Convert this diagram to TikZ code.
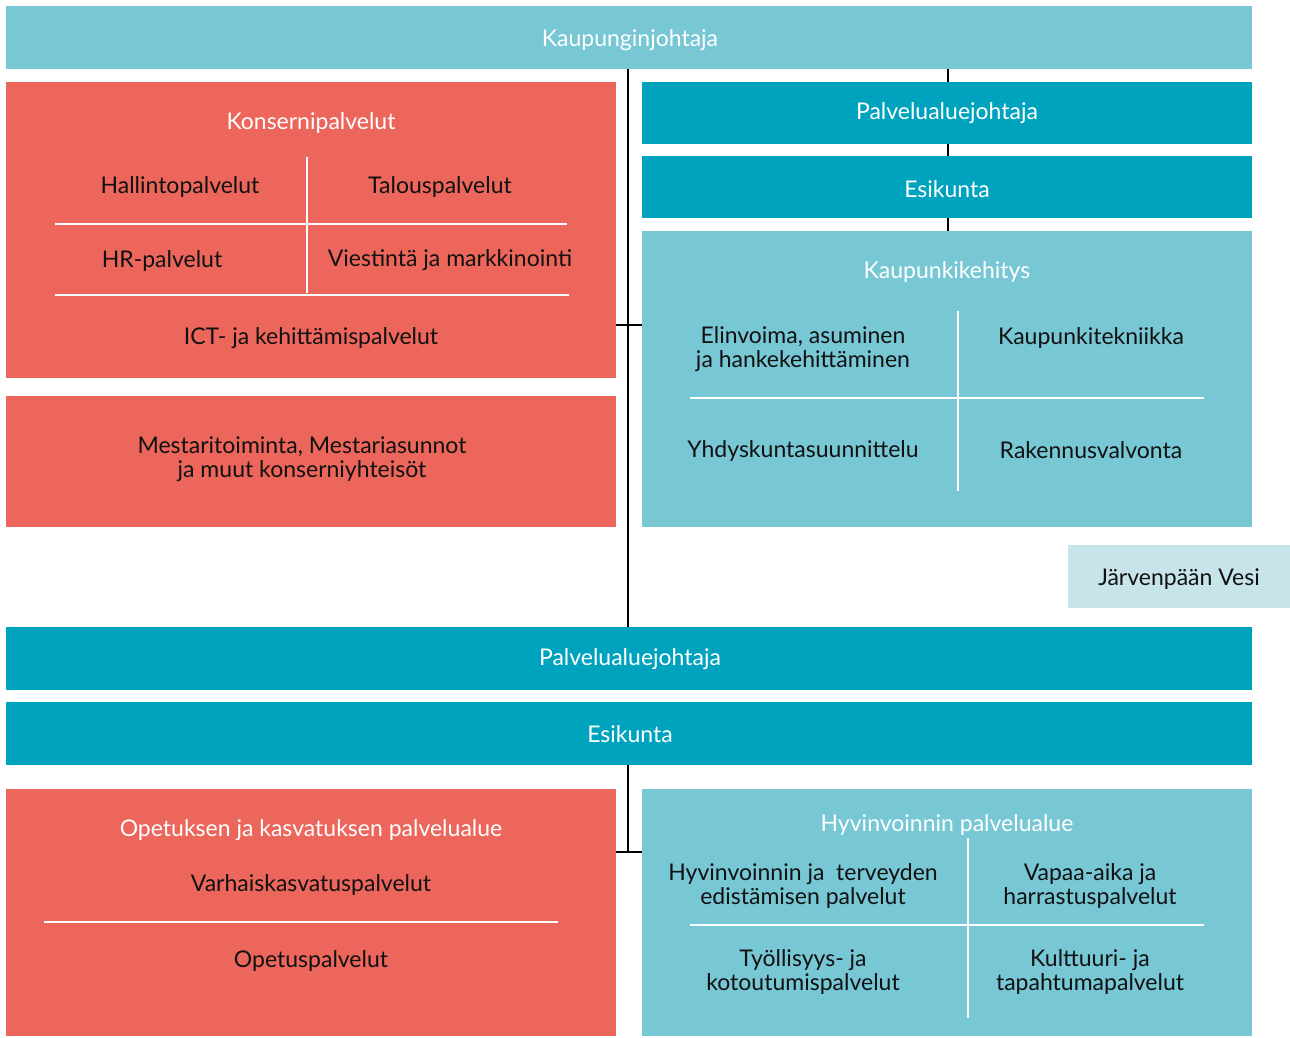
\documentclass[tikz,border=0pt]{standalone}
\usepackage{fontspec}
\setmainfont{Lato}
\pgfdeclarelayer{background}
\pgfsetlayers{background,main}
\definecolor{lteal}{HTML}{77C7D5}
\definecolor{dteal}{HTML}{00A3BD}
\definecolor{redbox}{HTML}{EC665B}
\definecolor{pale}{HTML}{C8E4EB}
\definecolor{ink}{HTML}{111111}
\begin{document}
\begin{tikzpicture}[x=1pt,y=-1pt,
  box/.style={draw=none,inner sep=0pt,anchor=north west},
  lbl/.style={inner sep=0pt,align=center,font=\fontsize{23}{24}\selectfont,yshift=-2.5pt},
  hd/.style={lbl,text=white},
  it/.style={lbl,text=ink},
  conn/.style={line width=2.6pt,black},
  sep/.style={line width=2.4pt,white}]
\useasboundingbox (0,0) rectangle (1290,1037);
% boxes
\node[box,fill=lteal,minimum width=1246pt,minimum height=63pt] (top) at (6,6) {};
\node[box,fill=redbox,minimum width=610pt,minimum height=296pt] (konsern) at (6,82) {};
\node[box,fill=redbox,minimum width=610pt,minimum height=131pt] (mestari) at (6,396) {};
\node[box,fill=dteal,minimum width=610pt,minimum height=62pt] (pj1) at (642,82) {};
\node[box,fill=dteal,minimum width=610pt,minimum height=62pt] (es1) at (642,156) {};
\node[box,fill=lteal,minimum width=610pt,minimum height=296pt] (kk) at (642,231) {};
\node[box,fill=pale,minimum width=222pt,minimum height=63pt] (vesi) at (1068,545) {};
\node[box,fill=dteal,minimum width=1246pt,minimum height=63pt] (pj2) at (6,627) {};
\node[box,fill=dteal,minimum width=1246pt,minimum height=63pt] (es2) at (6,702) {};
\node[box,fill=redbox,minimum width=610pt,minimum height=247pt] (opetus) at (6,789) {};
\node[box,fill=lteal,minimum width=610pt,minimum height=247pt] (hyv) at (642,789) {};
% connectors
\coordinate (j1) at (628,325);
\coordinate (j2) at (628,852);
\coordinate (j3) at (948,0);
\begin{pgfonlayer}{background}
\draw[conn] (top.south -| j1) -- (pj2.north -| j1);
\draw[conn] (konsern.east |- j1) -- (kk.west |- j1);
\draw[conn] (top.south -| j3) -- (kk.north -| j3);
\draw[conn] (es2.south -| j2) -- (j2);
\draw[conn] (opetus.east |- j2) -- (hyv.west |- j2);
\end{pgfonlayer}
% labels
\node[hd] (t0) at (630,38) {Kaupunginjohtaja};
\node[hd] (t1) at (311,120) {Konsernipalvelut};
\node[it] (t2) at (180,184) {Hallintopalvelut};
\node[it] (t3) at (440,184) {Talouspalvelut};
\node[it] (t4) at (162,258) {HR-palvelut};
\node[it] (t5) at (450,258) {Viestintä ja markkinointi};
\node[it] (t6) at (311,336) {ICT- ja kehittämispalvelut};
\draw[sep] (307,157) -- (307,293);
\draw[sep] (55,224) -- (567,224);
\draw[sep] (55,295) -- (569,295);
\node[it] (t7) at (302,457) {Mestaritoiminta, Mestariasunnot\\ja muut konserniyhteisöt};
\node[hd] (t8) at (947,111) {Palvelualuejohtaja};
\node[hd] (t9) at (947,187) {Esikunta};
\node[hd] (t10) at (947,269) {Kaupunkikehitys};
\node[it] (t11) at (803,347) {Elinvoima, asuminen\\ja hankekehittäminen};
\node[it] (t12) at (1091,335) {Kaupunkitekniikka};
\node[it] (t13) at (803,448) {Yhdyskuntasuunnittelu};
\node[it] (t14) at (1091,448) {Rakennusvalvonta};
\draw[sep] (958,311) -- (958,491);
\draw[sep] (690,398) -- (1204,398);
\node[it] (t15) at (1179,577) {Järvenpään Vesi};
\node[hd] (t16) at (630,657) {Palvelualuejohtaja};
\node[hd] (t17) at (630,732) {Esikunta};
\node[hd] (t18) at (311,828) {Opetuksen ja kasvatuksen palvelualue};
\node[it] (t19) at (311,882) {Varhaiskasvatuspalvelut};
\node[it] (t20) at (311,958) {Opetuspalvelut};
\draw[sep] (44,922) -- (558,922);
\node[hd] (t21) at (947,822) {Hyvinvoinnin palvelualue};
\node[it] (t22) at (803,883) {Hyvinvoinnin ja\ \ terveyden\\edistämisen palvelut};
\node[it] (t23) at (1090,883) {Vapaa-aika ja\\harrastuspalvelut};
\node[it] (t24) at (803,969) {Työllisyys- ja\\kotoutumispalvelut};
\node[it] (t25) at (1090,969) {Kulttuuri- ja\\tapahtumapalvelut};
\draw[sep] (968,838) -- (968,1018);
\draw[sep] (690,925) -- (1204,925);
\end{tikzpicture}
\end{document}
